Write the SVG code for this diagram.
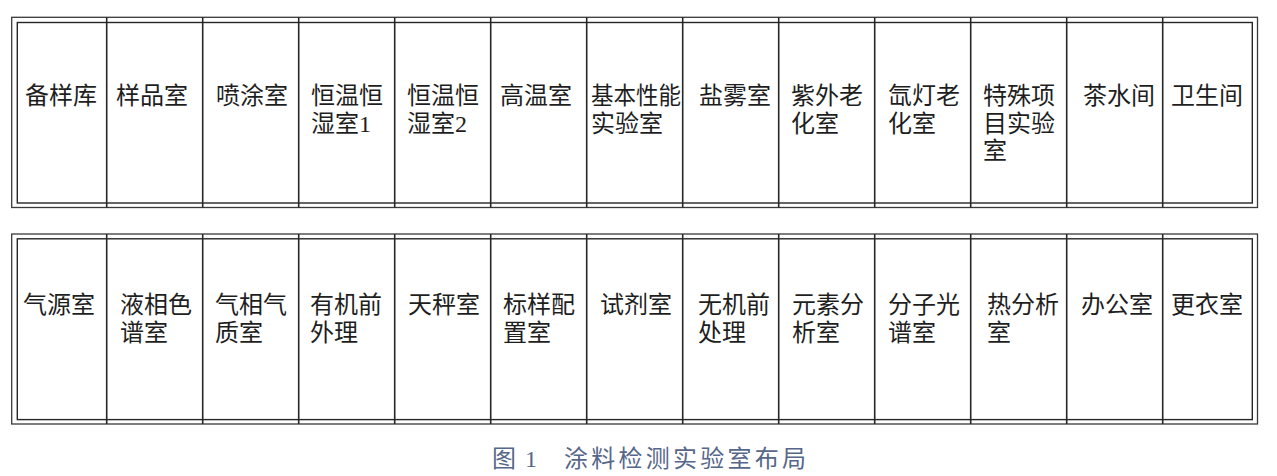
<svg xmlns="http://www.w3.org/2000/svg" width="1277" height="476" viewBox="0 0 1277 476">
<style>
.f{fill:none;stroke:#262626;stroke-width:1.4}
.o{fill:none;stroke:#3a3a3a;stroke-width:1.3}
.d{stroke:#262626;stroke-width:1.6}
text{font-family:"Liberation Serif","Noto Sans CJK SC",serif;font-size:24px;fill:#1e1e1e}
.cap{font-size:24px;fill:#56678a}
</style>
<rect width="1277" height="476" fill="#fff"/>
<g id="frames">
<rect class="o" x="11.7" y="17.3" width="1245.8" height="190.2"/>
<rect class="f" x="17.3" y="22.5" width="1235" height="180.5"/>
<rect class="o" x="11.7" y="234" width="1245.8" height="190"/>
<rect class="f" x="17.3" y="238.8" width="1235" height="180.8"/>
<g id="dividers">
<path class="d" d="M106.7 17.3V207.5M202.7 17.3V207.5M298.7 17.3V207.5M394.7 17.3V207.5M490.7 17.3V207.5M586.7 17.3V207.5M682.7 17.3V207.5M778.7 17.3V207.5M874.7 17.3V207.5M970.7 17.3V207.5M1066.7 17.3V207.5M1162.7 17.3V207.5"/>
<path class="d" d="M106.7 234V424M202.7 234V424M298.7 234V424M394.7 234V424M490.7 234V424M586.7 234V424M682.7 234V424M778.7 234V424M874.7 234V424M970.7 234V424M1066.7 234V424M1162.7 234V424"/>
</g>
</g>
<g id="top-row">
<g id="t0"><text x="25" y="104">备样库</text></g>
<g id="t1"><text x="116" y="104">样品室</text></g>
<g id="t2"><text x="216" y="104">喷涂室</text></g>
<g id="t3"><text x="311" y="104">恒温恒</text><text x="311" y="131.5">湿室1</text></g>
<g id="t4"><text x="407" y="104">恒温恒</text><text x="407" y="131.5">湿室2</text></g>
<g id="t5"><text x="500" y="104">高温室</text></g>
<g id="t6"><text x="591" y="104" textLength="90" lengthAdjust="spacingAndGlyphs">基本性能</text><text x="591" y="131.5">实验室</text></g>
<g id="t7"><text x="699" y="104">盐雾室</text></g>
<g id="t8"><text x="791" y="104">紫外老</text><text x="791" y="131.5">化室</text></g>
<g id="t9"><text x="888" y="104">氙灯老</text><text x="888" y="131.5">化室</text></g>
<g id="t10"><text x="983" y="104">特殊项</text><text x="983" y="131.5">目实验</text><text x="983" y="159">室</text></g>
<g id="t11"><text x="1083" y="104">茶水间</text></g>
<g id="t12"><text x="1171" y="104">卫生间</text></g>
</g>
<g id="bottom-row">
<g id="b0"><text x="23" y="313">气源室</text></g>
<g id="b1"><text x="120" y="313">液相色</text><text x="120" y="340.5">谱室</text></g>
<g id="b2"><text x="215" y="313">气相气</text><text x="215" y="340.5">质室</text></g>
<g id="b3"><text x="310" y="313">有机前</text><text x="310" y="340.5">外理</text></g>
<g id="b4"><text x="408" y="313">天秤室</text></g>
<g id="b5"><text x="503" y="313">标样配</text><text x="503" y="340.5">置室</text></g>
<g id="b6"><text x="600" y="313">试剂室</text></g>
<g id="b7"><text x="698" y="313">无机前</text><text x="698" y="340.5">处理</text></g>
<g id="b8"><text x="792" y="313">元素分</text><text x="792" y="340.5">析室</text></g>
<g id="b9"><text x="888" y="313">分子光</text><text x="888" y="340.5">谱室</text></g>
<g id="b10"><text x="987" y="313">热分析</text><text x="987" y="340.5">室</text></g>
<g id="b11"><text x="1081" y="313">办公室</text></g>
<g id="b12"><text x="1171" y="313">更衣室</text></g>
</g>
<g id="caption">
<text class="cap" x="492" y="467">图</text>
<text class="cap" x="525" y="467">1</text>
<text class="cap" x="564" y="467" textLength="242" lengthAdjust="spacing">涂料检测实验室布局</text>
</g>
</svg>
